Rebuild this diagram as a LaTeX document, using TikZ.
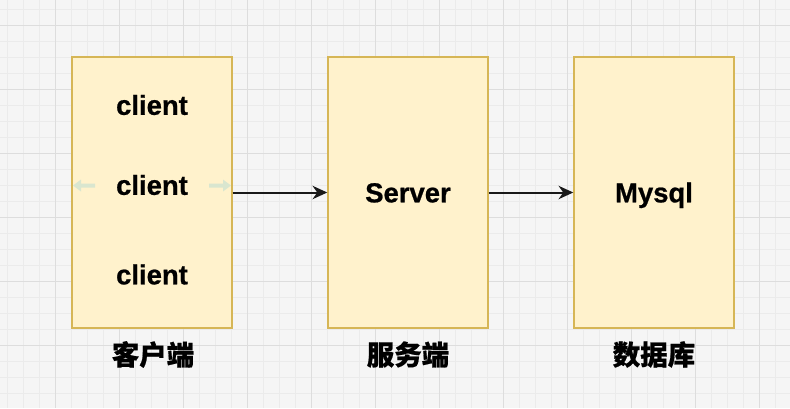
\documentclass[tikz,border=0pt]{standalone}
\usepackage{fontspec}
\setmainfont{Liberation Sans}[BoldFeatures={FakeBold=0.8}]
\newfontfamily\cjk{Noto Sans CJK SC}[BoldFeatures={FakeBold=0.6}]
\usetikzlibrary{arrows.meta}

\definecolor{tierfill}{HTML}{FFF2CC}
\definecolor{tierline}{HTML}{D6B656}
\definecolor{gridback}{HTML}{F5F5F5}
\definecolor{gridminor}{HTML}{EBEBEB}
\definecolor{gridmajor}{HTML}{DDDDDD}
\definecolor{hoverarrow}{RGB}{217,230,207}

\begin{document}
\begin{tikzpicture}[x=0.75pt, y=-0.75pt,
  tier/.style={draw=tierline, fill=tierfill, line width=1.1pt,
    minimum width=120pt, minimum height=203.25pt, inner sep=0pt,
    font=\fontsize{20.6}{24}\selectfont\bfseries,
    text height=14.75pt, text depth=0pt},
  row/.style={font=\fontsize{20.6}{24}\selectfont\bfseries,
    text height=14.75pt, text depth=0pt, inner sep=0pt},
  caption/.style={font=\cjk\fontsize{20.6}{24}\selectfont\bfseries, inner sep=0pt},
  link/.style={-{Stealth[length=11pt, width=10pt, inset=3.5pt]}, line width=1.5pt, black!90}]

  % background grid
  \fill[gridback] (0,0) rectangle (790,408);
  \useasboundingbox (0,0) rectangle (790,408);
  \foreach \gx in {7,23,...,790} \draw[gridminor, line width=0.75pt] (\gx,0) -- (\gx,408);
  \foreach \gy in {9,25,...,408} \draw[gridminor, line width=0.75pt] (0,\gy) -- (790,\gy);
  \foreach \gx in {55,119,...,790} \draw[gridmajor, line width=0.75pt] (\gx,0) -- (\gx,408);
  \foreach \gy in {25,89,...,408} \draw[gridmajor, line width=0.75pt] (0,\gy) -- (790,\gy);

  % tiers
  \node[tier] (client) at (152,192.5) {};
  \node[tier] (server) at (408,192.5) {Server};
  \node[tier] (mysql) at (654,192.5) {Mysql};

  \node[row] (client1) at (152,105) {client};
  \node[row] (client2) at (152,185) {client};
  \node[row] (client3) at (152,274.5) {client};

  \node[caption] (clientcap) at (153,354.5) {客户端};
  \node[caption] (servercap) at (408,354.5) {服务端};
  \node[caption] (mysqlcap) at (654,354.5) {数据库};

  % faint hover arrows
  \fill[hoverarrow] (73,185.5) -- (81,179.5) -- (81,183.5) -- (95,183.5)
    -- (95,187.5) -- (81,187.5) -- (81,191.5) -- cycle;
  \fill[hoverarrow] (231,185.5) -- (223,179.5) -- (223,183.5) -- (209,183.5)
    -- (209,187.5) -- (223,187.5) -- (223,191.5) -- cycle;

  % connectors
  \draw[link] (client) -- (server);
  \draw[link] (server) -- (mysql);

\end{tikzpicture}
\end{document}
